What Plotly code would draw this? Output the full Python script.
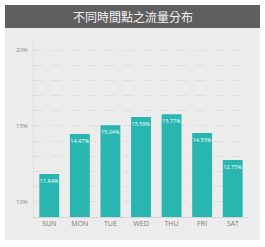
import plotly.graph_objects as go

days = ["SUN", "MON", "TUE", "WED", "THU", "FRI", "SAT"]
share = [11.84, 14.47, 15.04, 15.59, 15.77, 14.53, 12.75]
title = "不同時間點之流量分布"
tick_vals = [10, 11, 12, 13, 14, 15, 16, 17, 18, 19, 20]
tick_text = ["10%", "", "", "", "", "15%", "", "", "", "", "20%"]

W, H = 265, 247
L, R, T, B = 34, 17, 40, 30
pw, ph = W - L - R, H - T - B

def px(x):
    return (x - L) / pw

def py(y):
    return (H - B - y) / ph

fig = go.Figure(go.Bar(
    x=days, y=share,
    marker=dict(color="#29b6b0", line=dict(width=0)),
    text=[f"{v:.2f}%" for v in share],
    textposition="inside", insidetextanchor="end", textangle=0,
    constraintext="none",
    textfont=dict(color="white", size=5.5, family="Open Sans"),
    cliponaxis=False,
))

fig.update_layout(
    width=W, height=H,
    margin=dict(l=L, r=R, t=T, b=B),
    paper_bgcolor="white",
    plot_bgcolor="rgba(0,0,0,0)",
    bargap=0.35,
    showlegend=False,
    uniformtext=dict(minsize=5, mode="show"),
    shapes=[
        dict(type="rect", xref="paper", yref="paper", layer="below",
             x0=px(5), x1=px(260), y0=py(240), y1=py(28),
             fillcolor="#ececec", line=dict(width=0)),
        dict(type="rect", xref="paper", yref="paper", layer="below",
             x0=px(5), x1=px(260), y0=py(28), y1=py(5),
             fillcolor="#5f5f5f", line=dict(width=0)),
    ],
    annotations=[
        dict(text=title, xref="paper", yref="paper", x=px(133), y=py(16.5),
             showarrow=False, xanchor="center", yanchor="middle",
             font=dict(color="#f2f2f2", size=12, family="Noto Sans CJK TC")),
    ],
)
fig.update_xaxes(
    showgrid=False, showline=True, linecolor="#d4d4d4", linewidth=1,
    ticks="", tickfont=dict(size=7, color="#7a7a7a", family="Open Sans"),
)
fig.update_yaxes(
    range=[9, 20.66], tickmode="array", tickvals=tick_vals, ticktext=tick_text,
    showgrid=True, gridcolor="#dfdfdf", griddash="dash", gridwidth=1,
    showline=True, linecolor="#e0e0e0", linewidth=1,
    zeroline=False, ticks="", ticklabelstandoff=4,
    tickfont=dict(size=6, color="#888888", family="Open Sans"),
)
fig.write_html("out.html")
